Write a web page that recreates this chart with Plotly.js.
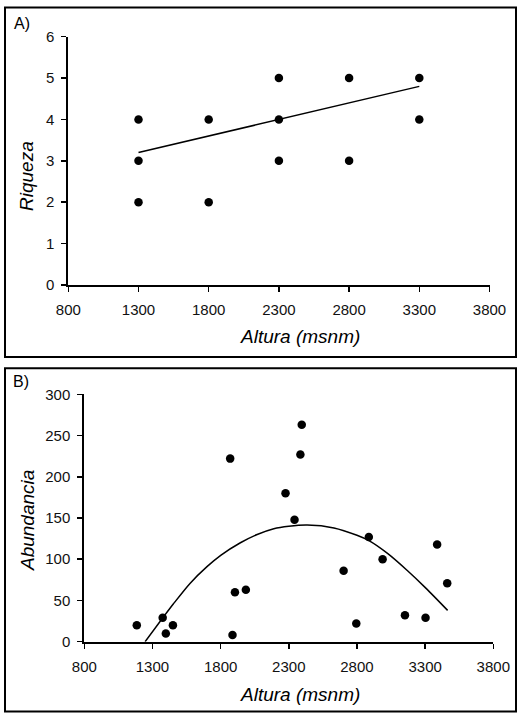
<!DOCTYPE html>
<html>
<head>
<meta charset="utf-8">
<script src="https://cdn.plot.ly/plotly-3.0.1.min.js"></script>
<style>
  html, body { margin: 0; padding: 0; background: #ffffff; }
  #chart { width: 518px; height: 713px; }
</style>
</head>
<body>
<div id="chart"></div>
<script>
// Panel A: richness vs altitude
const richAltitude = [1300, 1300, 1300, 1800, 1800, 2300, 2300, 2300, 2800, 2800, 3300, 3300];
const richValues   = [2, 3, 4, 2, 4, 3, 4, 5, 3, 5, 4, 5];
const richFitAltitude = [1300, 3300];
const richFitValues   = [3.2, 4.8];

// Panel B: abundance vs altitude
const abundAltitude = [1185, 1375, 1398, 1450, 1870, 1887, 1905, 1985, 2276, 2342, 2385, 2395, 2702, 2795, 2887, 2988, 3152, 3303, 3388, 3462];
const abundValues   = [20, 29, 10, 20, 222, 8, 60, 63, 180, 148, 227, 263, 86, 22, 127, 100, 32, 29, 118, 71];
// quadratic trend curve
const abundFitAltitude = [1246, 1376, 1454, 1577, 1700, 1803, 1945, 2068, 2190, 2300, 2435, 2631, 2800, 2888, 3024, 3171, 3305, 3465];
const abundFitValues   = [0, 29, 46, 71, 91, 105, 120, 130, 137, 140, 141.5, 138, 129, 122.5, 107, 86, 65, 38];

const xTicks = [800, 1300, 1800, 2300, 2800, 3300, 3800];

const W = 518, H = 713;
const px = v => v / W;
const py = v => 1 - v / H;

const FONT = 'Liberation Sans, Arial, sans-serif';
const markerStyle = { color: '#000', size: 8.5, symbol: 'circle' };
const lineStyle = { color: '#000', width: 1.5 };

const traces = [
  { x: richAltitude, y: richValues, type: 'scatter', mode: 'markers', marker: markerStyle, xaxis: 'x', yaxis: 'y', cliponaxis: false },
  { x: richFitAltitude, y: richFitValues, type: 'scatter', mode: 'lines', line: lineStyle, xaxis: 'x', yaxis: 'y' },
  { x: abundAltitude, y: abundValues, type: 'scatter', mode: 'markers', marker: markerStyle, xaxis: 'x2', yaxis: 'y2', cliponaxis: false },
  { x: abundFitAltitude, y: abundFitValues, type: 'scatter', mode: 'lines', line: Object.assign({ shape: 'spline', smoothing: 0.8 }, lineStyle), xaxis: 'x2', yaxis: 'y2' }
];

const axisCommon = {
  showgrid: false, zeroline: false, showline: true, linecolor: '#000', linewidth: 2,
  ticks: 'outside', ticklen: 5, tickwidth: 1.5, tickcolor: '#000',
  tickfont: { family: FONT, size: 15, color: '#111' }, fixedrange: true
};
const xAxisExtra = { ticklabelstandoff: 5 };
const yAxisExtra = { ticklabelstandoff: 4 };

const layout = {
  width: W, height: H,
  margin: { l: 0, r: 0, t: 0, b: 0, pad: 0 },
  paper_bgcolor: '#fff', plot_bgcolor: '#fff',
  showlegend: false,
  xaxis: Object.assign({}, axisCommon, xAxisExtra, { domain: [px(68.3), px(489.5)], range: [800, 3800], tickvals: xTicks, anchor: 'y' }),
  yaxis: Object.assign({}, axisCommon, yAxisExtra, { domain: [py(285), py(36.7)], range: [0, 6], dtick: 1, tick0: 0, anchor: 'x' }),
  xaxis2: Object.assign({}, axisCommon, xAxisExtra, { domain: [px(84.3), px(493.3)], range: [800, 3800], tickvals: xTicks, anchor: 'y2' }),
  yaxis2: Object.assign({}, axisCommon, yAxisExtra, { domain: [py(641.7), py(394.3)], range: [0, 300], dtick: 50, tick0: 0, anchor: 'x2' }),
  shapes: [
    { type: 'rect', xref: 'paper', yref: 'paper', x0: px(5), x1: px(516), y0: py(357), y1: py(7.5), line: { color: '#000', width: 2 } },
    { type: 'rect', xref: 'paper', yref: 'paper', x0: px(5), x1: px(516), y0: py(711.5), y1: py(368.3), line: { color: '#000', width: 2 } }
  ],
  annotations: [
    { text: 'A)', xref: 'paper', yref: 'paper', x: px(12), y: py(13), xanchor: 'left', yanchor: 'top', showarrow: false, font: { family: FONT, size: 16, color: '#000' } },
    { text: 'B)', xref: 'paper', yref: 'paper', x: px(11), y: py(371), xanchor: 'left', yanchor: 'top', showarrow: false, font: { family: FONT, size: 16, color: '#000' } },
    { text: '<i>Riqueza</i>', xref: 'paper', yref: 'paper', x: px(26), y: py(176), xanchor: 'center', yanchor: 'middle', textangle: -90, showarrow: false, font: { family: FONT, size: 19, color: '#000' } },
    { text: '<i>Altura (msnm)</i>', xref: 'paper', yref: 'paper', x: px(300), y: py(336), xanchor: 'center', yanchor: 'middle', showarrow: false, font: { family: FONT, size: 19, color: '#000' } },
    { text: '<i>Abundancia</i>', xref: 'paper', yref: 'paper', x: px(27), y: py(521), xanchor: 'center', yanchor: 'middle', textangle: -90, showarrow: false, font: { family: FONT, size: 19, color: '#000' } },
    { text: '<i>Altura (msnm)</i>', xref: 'paper', yref: 'paper', x: px(300), y: py(694), xanchor: 'center', yanchor: 'middle', showarrow: false, font: { family: FONT, size: 19, color: '#000' } }
  ]
};

Plotly.newPlot('chart', traces, layout, { displayModeBar: false, staticPlot: true });
</script>
</body>
</html>
